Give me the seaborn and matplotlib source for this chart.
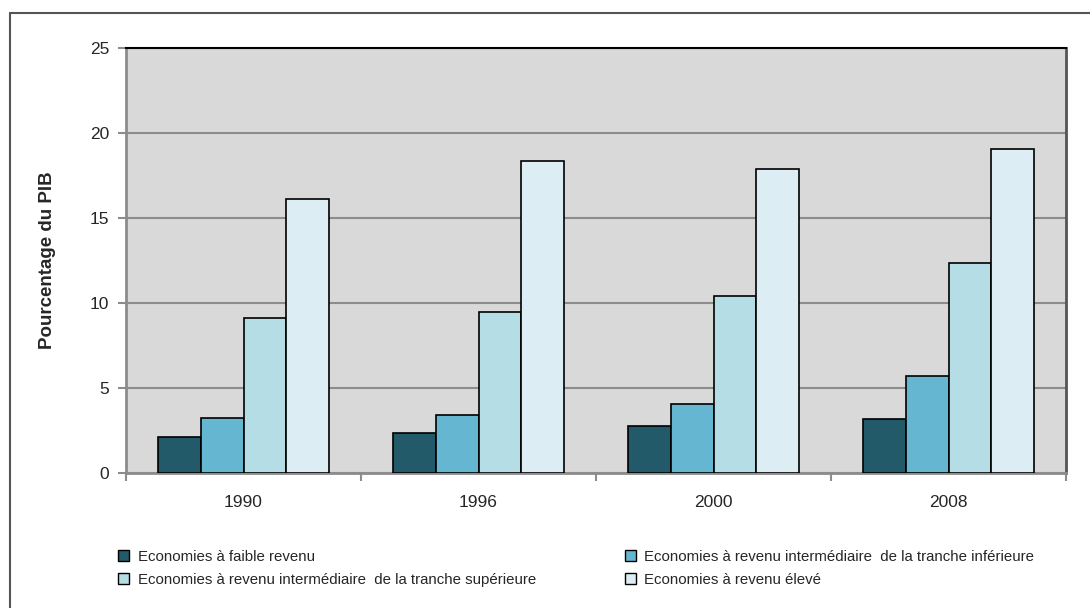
import matplotlib
matplotlib.use("Agg")
import matplotlib.pyplot as plt
import seaborn as sns
import pandas as pd
from matplotlib.lines import Line2D
from matplotlib.patches import Patch

years = ["1990", "1996", "2000", "2008"]
series = [
    "Economies à faible revenu",
    "Economies à revenu intermédiaire  de la tranche inférieure",
    "Economies à revenu intermédiaire  de la tranche supérieure",
    "Economies à revenu élevé",
]
low = [2.1, 2.35, 2.75, 3.2]
lower_mid = [3.25, 3.4, 4.05, 5.7]
upper_mid = [9.1, 9.5, 10.43, 12.37]
high = [16.1, 18.35, 17.9, 19.06]
colors = ["#235A69", "#65B6D0", "#B5DDE6", "#DCEEF4"]
yticks = [0, 5, 10, 15, 20, 25]

rows = []
for s, vals in zip(series, [low, lower_mid, upper_mid, high]):
    for y, v in zip(years, vals):
        rows.append({"year": y, "serie": s, "value": v})
df = pd.DataFrame(rows)

sns.set_style("white")
plt.rcParams["font.family"] = ["Liberation Sans", "DejaVu Sans"]

fig = plt.figure(figsize=(10.9, 6.08), dpi=100)
ax = fig.add_axes([126/1090, 1-473/608, (1066-126)/1090, (473-48)/608])
ax.set_facecolor("#D9D9D9")

sns.barplot(data=df, x="year", y="value", hue="serie", hue_order=series,
            order=years, palette=colors, saturation=1, width=0.73,
            edgecolor="black", linewidth=1.2, ax=ax, legend=False, zorder=3)

ax.set_ylim(0, 25)
ax.set_xlim(-0.5, 3.5)
ax.set_yticks(yticks)
ax.set_yticklabels([str(t) for t in yticks], fontsize=12.5)
ax.yaxis.grid(True, color="#8C8C8C", linewidth=1.5, zorder=0)
ax.set_axisbelow(True)
ax.set_xlabel("")
ax.set_ylabel("Pourcentage du PIB", fontsize=13.5, fontweight="bold", labelpad=24)

ax.set_xticks(range(4))
ax.set_xticklabels(years, fontsize=12.5)
ax.tick_params(axis="x", which="major", bottom=True, length=0, pad=16)
ax.set_xticks([-0.5, 0.5, 1.5, 2.5, 3.5], minor=True)
ax.tick_params(axis="x", which="minor", bottom=True, length=6, color="#8C8C8C", width=1.5)
ax.tick_params(axis="y", left=True, length=6, color="#8C8C8C", width=1.5, pad=6)

for side in ["left", "bottom"]:
    ax.spines[side].set_color("#8C8C8C")
    ax.spines[side].set_linewidth(2)
ax.spines["top"].set_color("black")
ax.spines["top"].set_linewidth(1.5)
ax.spines["right"].set_color("#555555")
ax.spines["right"].set_linewidth(2)

# outer frame (left and top edges)
fig.add_artist(Line2D([10/1090, 10/1090], [0, 1-13/608], transform=fig.transFigure, color="#555555", lw=1.5))
fig.add_artist(Line2D([10/1090, 1.0], [1-13/608, 1-13/608], transform=fig.transFigure, color="#555555", lw=1.5))

# legend
handles = [Patch(facecolor=c, edgecolor="black", linewidth=1) for c in colors]
positions = [(118, 557), (625, 557), (118, 580), (625, 580)]
for h, s, (px, py) in zip(handles, series, positions):
    fig.legend([h], [s], loc="center left", bbox_to_anchor=(px/1090, 1-py/608),
               frameon=False, fontsize=10.8, handlelength=0.75, handleheight=0.75,
               handletextpad=0.55, borderpad=0, borderaxespad=0)

fig.savefig("out.png", dpi=100)
